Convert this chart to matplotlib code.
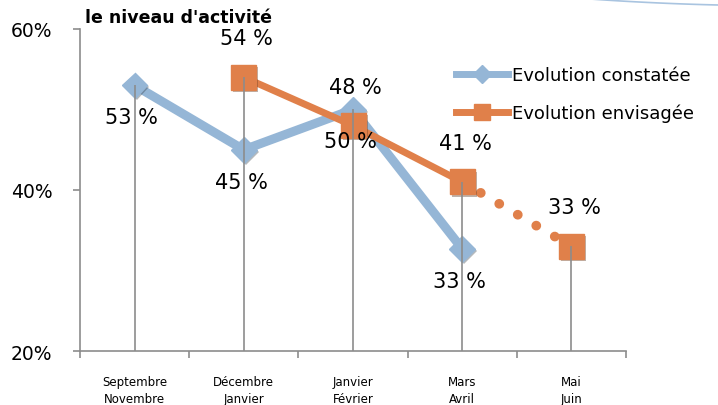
import numpy as np
import matplotlib
matplotlib.use('Agg')
import matplotlib.pyplot as plt
import matplotlib.patheffects as pe
from matplotlib.lines import Line2D

# donnees
categories = ['Septembre\nNovembre', 'Décembre\nJanvier', 'Janvier\nFévrier', 'Mars\nAvril', 'Mai\nJuin']
constatee = [53, 45, 50, 32.7, np.nan]
envisagee = [np.nan, 54, 48, 41, 33]
yticks = [20, 40, 60]

blue = '#95B6D6'
orange = '#E0804A'
gray = '#8C8C8C'

plt.rcParams['font.family'] = ['DejaVu Sans']

fig = plt.figure(figsize=(7.18, 4.06), dpi=100)
ax = fig.add_axes([80 / 718, 1 - 352 / 406, 546 / 718, 322 / 406])

x = np.arange(len(categories))
cons = np.array(constatee, dtype=float)
env = np.array(envisagee, dtype=float)

shadow = [pe.SimplePatchShadow(offset=(1.5, -1.5), alpha=0.35), pe.Normal()]

# serie constatee
ax.plot(x, cons, color=blue, lw=6.5, solid_capstyle='butt', zorder=2)
ax.plot(x, cons, ls='none', marker='D', ms=13, color=blue, zorder=3,
        path_effects=shadow)

# serie envisagee : trait plein puis pointilles vers la derniere periode
n_solid = 4
ax.plot(x[:n_solid], env[:n_solid], color=orange, lw=5, zorder=4)
ax.plot(x[n_solid - 1:], env[n_solid - 1:], color=orange, lw=7,
        ls=(0, (0.01, 2.2)), dash_capstyle='round', zorder=4)
ax.plot(x, env, ls='none', marker='s', ms=18, color=orange, zorder=5,
        path_effects=shadow)

# lignes de projection depuis la valeur la plus haute
top = np.nanmax(np.vstack([cons, env]), axis=0)
ax.vlines(x, yticks[0], top, color=gray, lw=1.2, zorder=6)

# etiquettes
for xi, v in zip(x, cons):
    if not np.isnan(v):
        ax.annotate(f'{v:.0f} %', (xi, v), xytext=(-2, -23), textcoords='offset points',
                    ha='center', va='center', fontsize=15, zorder=7)
for xi, v in zip(x, env):
    if not np.isnan(v):
        ax.annotate(f'{v:.0f} %', (xi, v), xytext=(2, 28), textcoords='offset points',
                    ha='center', va='center', fontsize=15, zorder=7)

ax.set_xlim(-0.5, len(categories) - 0.5)
ax.set_ylim(yticks[0], yticks[-1])
ax.set_yticks(yticks)
ax.set_yticklabels([f'{t}%' for t in yticks], fontsize=13.5)
ax.set_xticks(np.arange(len(categories) + 1) - 0.5)
ax.set_xticklabels([])
ax.set_xticks(x, minor=True)
ax.set_xticklabels(categories, minor=True, fontsize=8.5, linespacing=1.4)
ax.tick_params(axis='x', which='minor', length=0, pad=17)
ax.tick_params(axis='x', which='major', length=5, color=gray, width=1.2)
ax.tick_params(axis='y', length=5, color=gray, width=1.2, pad=15)

for s in ['top', 'right']:
    ax.spines[s].set_visible(False)
for s in ['left', 'bottom']:
    ax.spines[s].set_color(gray)
    ax.spines[s].set_linewidth(1.2)

fig.text(85 / 718, 1 - 18 / 406, "le niveau d'activité", fontsize=12.5, fontweight='bold',
         ha='left', va='center')

handles = [Line2D([], [], color=blue, lw=5, marker='D', ms=9),
           Line2D([], [], color=orange, lw=5, marker='s', ms=11)]
ax.legend(handles, ['Evolution constatée', 'Evolution envisagée'], loc='upper left',
          bbox_to_anchor=(456 / 718, 1 - 67 / 406), bbox_transform=fig.transFigure,
          frameon=False, fontsize=13, handlelength=2.9, handletextpad=0.2,
          labelspacing=1.1, borderpad=0, borderaxespad=0)

# trait decoratif en haut a droite
t = np.linspace(0, 1, 30)
fig.add_artist(Line2D(590 / 718 + t * 128 / 718, 1 - (t * 9 - t ** 2 * 3) / 406,
                      transform=fig.transFigure, color='#A9C4E0', lw=1.2))

fig.savefig('out.png', dpi=100)
